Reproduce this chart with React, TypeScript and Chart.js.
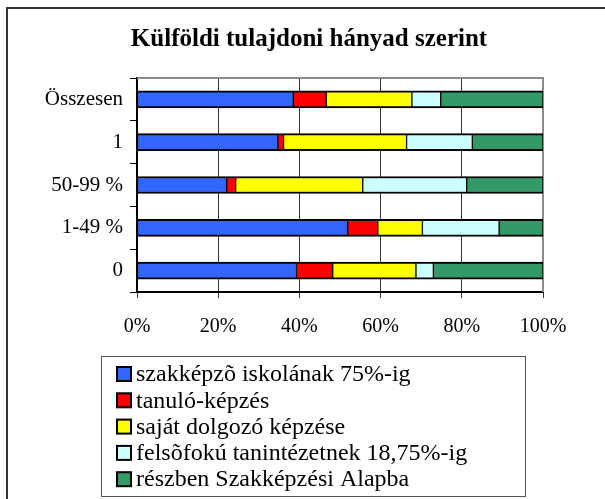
import React, { useEffect, useRef } from "react";
import { Chart, registerables } from "chart.js";

Chart.register(...registerables);

const title = "Külföldi tulajdoni hányad szerint";
const categories = ["Összesen", "1", "50-99 %", "1-49 %", "0"];
const seriesNames = [
  "szakképzõ iskolának 75%-ig",
  "tanuló-képzés",
  "saját dolgozó képzése",
  "felsõfokú tanintézetnek 18,75%-ig",
  "részben Szakképzési Alapba",
];
const szakkepzo = [38.5, 34.7, 22.1, 51.9, 39.3];
const tanulo = [8.1, 1.4, 2.2, 7.4, 8.9];
const sajat = [21.1, 30.3, 31.3, 11.0, 20.5];
const felsofoku = [7.1, 16.2, 25.6, 18.9, 4.3];
const reszben = [25.2, 17.4, 18.8, 10.8, 27.0];
const xTickValues = [0, 20, 40, 60, 80, 100];

const colors = ["#3366FF", "#FF0000", "#FFFF00", "#CCFFFF", "#339966"];
const FONT = '"Liberation Serif", "Times New Roman", serif';

const framePlugin = {
  id: "framePlugin",
  beforeDatasetsDraw(chart: any) {
    const { ctx, chartArea } = chart;
    ctx.save();
    ctx.strokeStyle = "#8c8c8c";
    ctx.lineWidth = 2;
    ctx.beginPath();
    ctx.moveTo(chartArea.left, chartArea.top);
    ctx.lineTo(chartArea.right, chartArea.top);
    ctx.lineTo(chartArea.right, chartArea.bottom);
    ctx.stroke();
    ctx.restore();
  },
  afterDraw(chart: any) {
    const { ctx } = chart;
    ctx.save();
    // outer frame
    ctx.strokeStyle = "#333";
    ctx.lineWidth = 2;
    ctx.beginPath();
    ctx.moveTo(7, chart.height + 5);
    ctx.lineTo(7, 8);
    ctx.lineTo(chart.width + 5, 8);
    ctx.stroke();

    // title
    ctx.fillStyle = "#000";
    ctx.font = `bold 25px ${FONT}`;
    ctx.textAlign = "center";
    ctx.textBaseline = "middle";
    ctx.fillText(title, 309, 40);

    // legend box
    const bx = 101.5, by = 356.5, bw = 424, bh = 140;
    ctx.fillStyle = "#fff";
    ctx.fillRect(bx, by, bw, bh);
    ctx.strokeStyle = "#555";
    ctx.lineWidth = 1;
    ctx.strokeRect(bx, by, bw, bh);

    const ds = chart.data.datasets;
    ctx.font = `24px ${FONT}`;
    ctx.textBaseline = "middle";
    ctx.textAlign = "left";
    ds.forEach((d: any, i: number) => {
      const cy = 374 + i * 26.3;
      ctx.fillStyle = d.backgroundColor;
      ctx.fillRect(117, cy - 7, 14, 14);
      ctx.strokeStyle = "#000";
      ctx.lineWidth = 2;
      ctx.strokeRect(117, cy - 7, 14, 14);
      ctx.fillStyle = "#000";
      ctx.fillText(d.label, 136, cy + 1);
    });
    ctx.restore();
  },
};

export default function App() {
  const ref = useRef<HTMLCanvasElement | null>(null);

  useEffect(() => {
    if (!ref.current) return;
    const series = [szakkepzo, tanulo, sajat, felsofoku, reszben];
    const chart = new Chart(ref.current, {
      type: "bar",
      data: {
        labels: categories,
        datasets: series.map((vals, i) => ({
          label: seriesNames[i],
          data: vals,
          backgroundColor: colors[i],
          borderColor: "#000",
          borderWidth: { top: 2, bottom: 2, left: 1, right: 1 },
          borderSkipped: false,
          barThickness: 17,
        })),
      },
      options: {
        indexAxis: "y",
        animation: false,
        responsive: false,
        maintainAspectRatio: false,
        layout: { padding: { left: 0, right: 62, top: 78, bottom: 157 } },
        plugins: {
          legend: { display: false },
          tooltip: { enabled: false },
          title: { display: false },
        },
        scales: {
          x: {
            stacked: true,
            min: 0,
            max: 100,
            afterBuildTicks(scale: any) {
              scale.ticks = xTickValues.map((v) => ({ value: v }));
            },
            afterFit(scale: any) {
              scale.height = 50;
            },
            ticks: {
              color: "#000",
              font: { family: FONT, size: 20, lineHeight: 1.2 },
              padding: 17,
              maxRotation: 0,
              callback: (v: any) => `${v}%`,
            },
            grid: {
              color: "#333",
              lineWidth: 1,
              drawTicks: true,
              tickLength: 6,
            },
            border: { display: true, color: "#000", width: 2 },
          },
          y: {
            stacked: true,
            afterFit(scale: any) {
              scale.width = 137;
            },
            ticks: {
              color: "#000",
              font: { family: FONT, size: 21, lineHeight: 1.2 },
              padding: 7,
            },
            grid: {
              drawOnChartArea: false,
              drawTicks: true,
              tickLength: 7,
              color: "#000",
              lineWidth: 1,
              offset: true,
            },
            border: { display: true, color: "#000", width: 2 },
          },
        },
      },
      plugins: [framePlugin],
    });
    return () => chart.destroy();
  }, []);

  return (
    <div style={{ position: "absolute", left: 0, top: 0, width: 605, height: 499 }}>
      <canvas ref={ref} width={605} height={499} style={{ width: 605, height: 499 }} />
    </div>
  );
}
